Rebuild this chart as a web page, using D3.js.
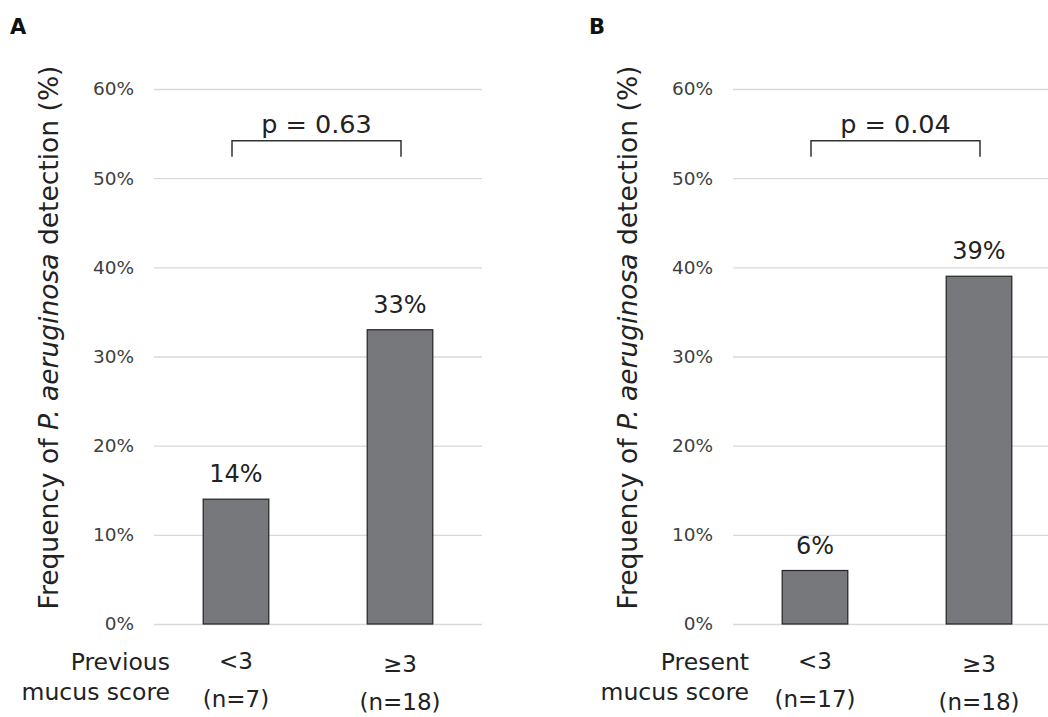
<!DOCTYPE html>
<html>
<head>
<meta charset="utf-8">
<script src="https://cdn.jsdelivr.net/npm/d3@7"></script>
<style>
  body { margin: 0; background: #fff; }
  text { font-family: "DejaVu Sans", Verdana, sans-serif; }
</style>
</head>
<body>
<div id="chart"></div>
<script>
'use strict';

// data
const panelLetters = ["A", "B"]
const groupTitles = [["Previous", "mucus score"], ["Present", "mucus score"]]
const categories = ["<3", "\u22653"]
const sampleSizes = [["(n=7)", "(n=18)"], ["(n=17)", "(n=18)"]]
const freqValues = [[14, 33], [6, 39]]
const pValues = ["p = 0.63", "p = 0.04"]
const yTicks = [0, 10, 20, 30, 40, 50, 60]

const width = 1048,
    height = 717;

const svg = d3.select("#chart").append("svg")
    .attr("width", width)
    .attr("height", height);

const y = d3.scaleLinear()
    .domain([0, 60])
    .range([624, 89]);

const drawPanel = (p, offset) => {
    const g = svg.append("g")
        .attr("transform", `translate(${offset},0)`);

    const x = d3.scaleBand()
        .domain(categories)
        .range([154, 482])
        .paddingInner(0.6)
        .paddingOuter(0.3);

    // panel letter
    g.append("text")
        .attr("x", 10)
        .attr("y", 34)
        .attr("font-size", 21)
        .attr("font-weight", "bold")
        .attr("fill", "#111")
        .text(panelLetters[p]);

    // gridlines + tick labels
    const axis = d3.axisLeft(y)
        .tickValues(yTicks)
        .tickSize(-(482 - 154))
        .tickPadding(20)
        .tickFormat(d => d + "%");
    g.append("g")
        .attr("transform", "translate(154,0)")
        .call(axis)
        .call(a => a.select(".domain").remove())
        .call(a => a.selectAll("line").attr("stroke", "#d9d9d9").attr("stroke-width", 1.3))
        .call(a => a.selectAll("text")
            .attr("font-size", 18.5)
            .attr("fill", "#404040")
            .attr("font-family", "DejaVu Sans, sans-serif"));

    // y title
    const yt = g.append("text")
        .attr("transform", `translate(58,${(65 + 610) / 2}) rotate(-90)`)
        .attr("text-anchor", "middle")
        .attr("font-size", 26.5)
        .attr("fill", "#222");
    yt.append("tspan").text("Frequency of ");
    yt.append("tspan").attr("font-style", "italic").text("P. aeruginosa");
    yt.append("tspan").text(" detection (%)");

    // bars
    const rows = categories.map((c, i) => ({ cat: c, value: freqValues[p][i], n: sampleSizes[p][i] }));
    g.append("g")
        .selectAll("rect")
        .data(rows)
        .enter().append("rect")
        .attr("x", d => x(d.cat))
        .attr("width", x.bandwidth())
        .attr("y", d => y(d.value))
        .attr("height", d => y(0) - y(d.value))
        .attr("fill", "#77787b")
        .attr("stroke", "#222")
        .attr("stroke-width", 1.2);

    // value labels
    g.append("g")
        .selectAll("text")
        .data(rows)
        .enter().append("text")
        .attr("x", d => x(d.cat) + x.bandwidth() / 2)
        .attr("y", d => y(d.value) - 17)
        .attr("text-anchor", "middle")
        .attr("font-size", 24)
        .attr("fill", "#222")
        .text(d => d.value + "%");

    // category labels
    const cl = g.append("g")
        .selectAll("g")
        .data(rows)
        .enter().append("g")
        .attr("transform", (d, i) => `translate(${x(d.cat) + x.bandwidth() / 2},${i === 0 ? 0 : 3})`);
    cl.append("text")
        .attr("y", 669)
        .attr("text-anchor", "middle")
        .attr("font-size", 23)
        .attr("fill", "#222")
        .text(d => d.cat);
    cl.append("text")
        .attr("y", 707)
        .attr("text-anchor", "middle")
        .attr("font-size", 23)
        .attr("fill", "#222")
        .text(d => d.n);

    // group title
    g.append("text")
        .attr("x", 170)
        .attr("y", 670)
        .attr("text-anchor", "end")
        .attr("font-size", 23.5)
        .attr("fill", "#222")
        .selectAll("tspan")
        .data(groupTitles[p])
        .enter().append("tspan")
        .attr("x", 170)
        .attr("dy", (d, i) => i === 0 ? 0 : 30)
        .text(d => d);

    // significance bracket
    const x1 = x(categories[0]) + x.bandwidth() / 2 - 4,
        x2 = x(categories[1]) + x.bandwidth() / 2 + 1;
    g.append("path")
        .attr("d", `M${x1},${y(52.4)} V${y(54.2)} H${x2} V${y(52.4)}`)
        .attr("fill", "none")
        .attr("stroke", "#333")
        .attr("stroke-width", 1.5);
    g.append("text")
        .attr("x", (x1 + x2) / 2)
        .attr("y", y(54.2) - 8)
        .attr("text-anchor", "middle")
        .attr("font-size", 25.5)
        .attr("fill", "#222")
        .text(pValues[p]);
}

drawPanel(0, 0)
drawPanel(1, 579)
</script>
</body>
</html>
